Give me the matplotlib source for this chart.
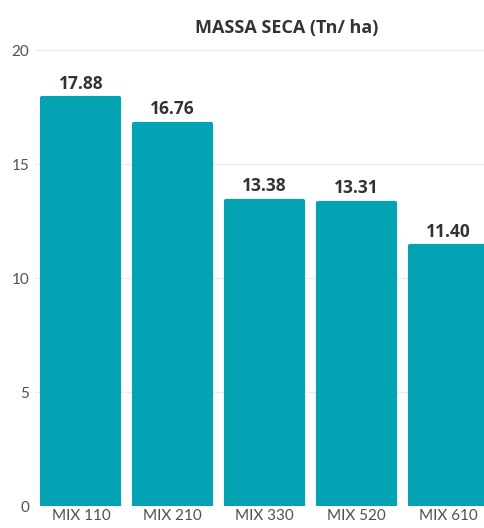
import matplotlib.pyplot as plt

# dados
categorias = ['MIX 110', 'MIX 210', 'MIX 330', 'MIX 520', 'MIX 610']
valores = [17.88, 16.76, 13.38, 13.31, 11.40]
rotulos = ['17.88', '16.76', '13.38', '13.31', '11.40']
yticks = [0, 5, 10, 15, 20]

COR = '#04A3B4'
TXT = '#333333'

plt.rcParams['font.family'] = ['Lato', 'DejaVu Sans']

fig = plt.figure(figsize=(4.84, 5.28), dpi=100)
ax = fig.add_axes([35 / 484, 22 / 528, 459 / 484, 456 / 528])

x = range(len(categorias))
bars = ax.bar(x, valores, width=0.84, color=COR, edgecolor=COR,
              linewidth=3, joinstyle='round', zorder=3)

for b, lab in zip(bars, rotulos):
    ax.annotate(lab, (b.get_x() + b.get_width() / 2, b.get_height()),
                xytext=(0, 4), textcoords='offset points',
                ha='center', va='bottom', fontsize=12.5,
                fontweight='bold', color=TXT, family=['Open Sans', 'DejaVu Sans'])

ax.set_xlim(-0.5, 4.5)
ax.set_ylim(0, 20)
ax.set_yticks(yticks)
ax.set_xticks(list(x))
ax.set_xticklabels(categorias)
ax.tick_params(axis='both', length=0, labelsize=11, labelcolor='#505050')
ax.tick_params(axis='y', pad=4)
ax.tick_params(axis='x', pad=2)
ax.grid(axis='y', color='#ececec', linewidth=0.8, zorder=0)
for s in ax.spines.values():
    s.set_visible(False)

fig.text(287 / 484, 1 - 28 / 528, 'MASSA SECA (Tn/ ha)', ha='center',
         va='center', fontsize=13, fontweight='bold', color=TXT,
         family=['Open Sans', 'DejaVu Sans'])

fig.savefig('out.png', dpi=100)
